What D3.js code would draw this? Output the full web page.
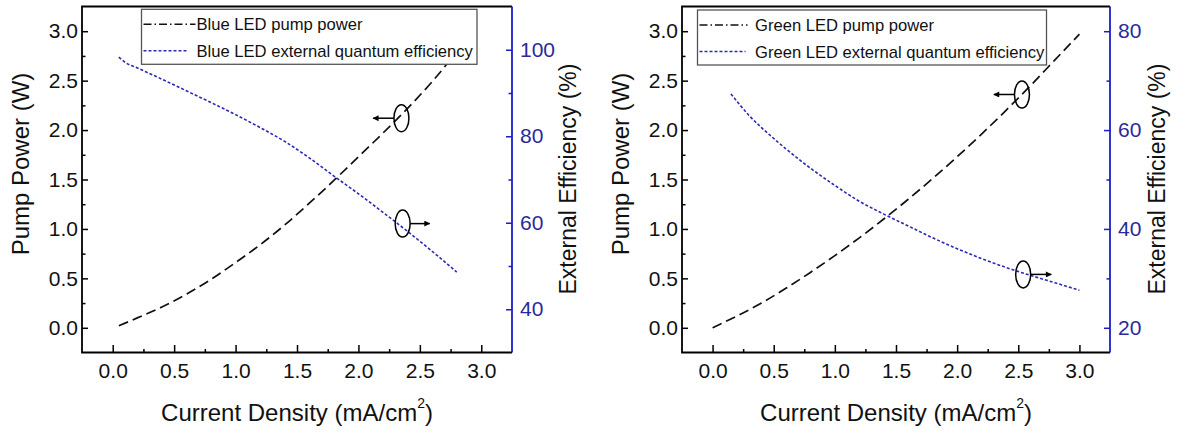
<!DOCTYPE html>
<html><head><meta charset="utf-8">
<script src="https://cdn.jsdelivr.net/npm/d3@7"></script>
<style>
body{margin:0;background:#fff}
svg{display:block}
text{font-family:"Liberation Sans",Arial,sans-serif}
</style>
</head><body>
<svg id="c" width="1181" height="437"></svg>
<script>
// ---- tick labels ----
const xTicks = [0, 0.5, 1, 1.5, 2, 2.5, 3];
const xMinor = [0.25, 0.75, 1.25, 1.75, 2.25, 2.75];
const pumpTicks = [0, 0.5, 1, 1.5, 2, 2.5, 3];
const pumpMinor = [0.25, 0.75, 1.25, 1.75, 2.25, 2.75];
const blueEffTicks = [40, 60, 80, 100];
const blueEffMinor = [50, 70, 90];
const greenEffTicks = [20, 40, 60, 80];
const greenEffMinor = [30, 50, 70];

// ---- Blue LED series ----
const blueCurrent = [0.05, 0.2, 0.4, 0.6, 0.8, 1.0, 1.2, 1.4, 1.6, 1.8, 2.0, 2.2, 2.4, 2.6, 2.8];
const bluePump    = [0.02, 0.10, 0.21, 0.34, 0.49, 0.66, 0.84, 1.04, 1.26, 1.49, 1.73, 1.97, 2.22, 2.49, 2.79];
const blueEffCurrent = [0.05, 0.1, 0.2, 0.4, 0.6, 0.8, 1.0, 1.2, 1.4, 1.6, 1.8, 2.0, 2.2, 2.4, 2.6, 2.8];
const blueEff        = [98.3, 97.1, 95.8, 93.2, 90.5, 87.8, 85.0, 82.0, 78.8, 75.0, 70.8, 66.7, 62.4, 58.0, 53.4, 48.6];

// ---- Green LED series ----
const greenCurrent = [0, 0.2, 0.4, 0.6, 0.8, 1.0, 1.2, 1.4, 1.6, 1.8, 2.0, 2.2, 2.4, 2.6, 2.8, 3.0];
const greenPump    = [0.00, 0.12, 0.25, 0.40, 0.56, 0.73, 0.91, 1.10, 1.30, 1.51, 1.73, 1.96, 2.20, 2.45, 2.71, 2.97];
const greenEffCurrent = [0.15, 0.2, 0.3, 0.4, 0.5, 0.6, 0.8, 1.0, 1.2, 1.4, 1.6, 1.8, 2.0, 2.2, 2.4, 2.6, 2.8, 3.0];
const greenEff        = [67.3, 65.8, 62.9, 60.5, 58.3, 56.2, 52.3, 48.8, 45.6, 43.0, 40.6, 38.2, 36.0, 34.0, 32.2, 30.6, 29.1, 27.6];

// ---- legend labels ----
const blueLegend = ["Blue LED pump power", "Blue LED external quantum efficiency"];
const greenLegend = ["Green LED pump power", "Green LED external quantum efficiency"];

// ---- annotation marks (current, value, which axis, arrow tip current) ----
const blueNotes = [[2.35, 2.12, "L", 2.12], [2.36, 59.8, "R", 2.58]];
const greenNotes = [[2.53, 2.36, "L", 2.30], [2.54, 30.8, "R", 2.77]];

const svg = d3.select("#c");
const AX = "#1c1cc8", LBL = "#2a2a9c", EFF = "#2b2bb5";
const yTop = 6.5, yBot = 352.5;

svg.append("defs").append("marker")
  .attr("id", "ah").attr("viewBox", "0 0 10 10").attr("refX", 9).attr("refY", 5)
  .attr("markerWidth", 7).attr("markerHeight", 6).attr("markerUnits", "userSpaceOnUse")
  .attr("orient", "auto")
  .append("path").attr("d", "M0,0L10,5L0,10z").attr("fill", "#000");

function panel(o) {
  const g = svg.append("g");
  const x = d3.scaleLinear().domain([-0.25, 3.25]).range([o.x0, o.x1]);
  const yL = d3.scaleLinear().domain([-0.25, 3.25]).range([yBot, yTop]);
  const yR = d3.scaleLinear().domain(o.rDomain).range([yBot, yTop]);

  const cid = "clip" + o.id;
  svg.select("defs").append("clipPath").attr("id", cid)
    .append("rect").attr("x", o.x0).attr("y", yTop).attr("width", o.x1 - o.x0).attr("height", yBot - yTop);

  // data lines
  const lineL = d3.line().x(d => x(d[0])).y(d => yL(d[1])).curve(d3.curveMonotoneX);
  const lineR = d3.line().x(d => x(d[0])).y(d => yR(d[1])).curve(d3.curveMonotoneX);
  const lines = g.append("g").attr("clip-path", `url(#${cid})`);
  lines.append("path").attr("d", lineR(d3.zip(o.effX, o.eff)))
    .attr("fill", "none").attr("stroke", EFF).attr("stroke-width", 1.6).attr("stroke-dasharray", "3,2");
  lines.append("path").attr("d", lineL(d3.zip(o.pumpX, o.pump)))
    .attr("fill", "none").attr("stroke", "#111").attr("stroke-width", 1.7).attr("stroke-dasharray", "10,5");

  // axes
  const styleAxis = (sel, color, labelColor) => {
    sel.selectAll(".domain").remove();
    sel.selectAll("line").attr("stroke", color).attr("stroke-width", 1.5);
    sel.selectAll("text").attr("fill", labelColor).attr("font-size", 21);
  };
  const fmt = d3.format(".1f");
  g.append("g").attr("transform", `translate(0,${yBot})`)
    .call(d3.axisBottom(x).tickValues(xTicks).tickFormat(fmt).tickSizeInner(-7.5).tickSizeOuter(0).tickPadding(11))
    .call(s => styleAxis(s, "#000", "#111"));
  g.append("g").attr("transform", `translate(0,${yBot})`)
    .call(d3.axisBottom(x).tickValues(xMinor).tickFormat("").tickSizeInner(-3.5).tickSizeOuter(0))
    .call(s => styleAxis(s, "#000", "#111"));
  g.append("g").attr("transform", `translate(${o.x0},0)`)
    .call(d3.axisLeft(yL).tickValues(pumpTicks).tickFormat(fmt).tickSizeInner(-6).tickSizeOuter(0).tickPadding(4))
    .call(s => styleAxis(s, "#000", "#111"));
  g.append("g").attr("transform", `translate(${o.x0},0)`)
    .call(d3.axisLeft(yL).tickValues(pumpMinor).tickFormat("").tickSizeInner(-3.5).tickSizeOuter(0))
    .call(s => styleAxis(s, "#000", "#111"));
  g.append("g").attr("transform", `translate(${o.x1},0)`)
    .call(d3.axisRight(yR).tickValues(o.rTicks).tickFormat(d3.format("d")).tickSizeInner(-6).tickSizeOuter(0).tickPadding(8))
    .call(s => styleAxis(s, AX, LBL));
  g.append("g").attr("transform", `translate(${o.x1},0)`)
    .call(d3.axisRight(yR).tickValues(o.rMinor).tickFormat("").tickSizeInner(-3.5).tickSizeOuter(0))
    .call(s => styleAxis(s, AX, LBL));

  // frame
  g.append("path").attr("d", `M${o.x1},${yTop}H${o.x0}V${yBot}H${o.x1}`)
    .attr("fill", "none").attr("stroke", "#000").attr("stroke-width", 1.8);
  g.append("line").attr("x1", o.x1).attr("x2", o.x1).attr("y1", yTop).attr("y2", yBot)
    .attr("stroke", AX).attr("stroke-width", 1.8);

  // annotations
  o.notes.forEach(n => {
    const cx = x(n[0]), cy = n[2] === "L" ? yL(n[1]) : yR(n[1]);
    g.append("ellipse").attr("cx", cx).attr("cy", cy).attr("rx", 7.5).attr("ry", 13.5)
      .attr("fill", "none").attr("stroke", "#000").attr("stroke-width", 1.5);
    const tip = x(n[3]);
    const start = tip < cx ? cx - 7.5 : cx + 7.5;
    g.append("line").attr("x1", start).attr("y1", cy).attr("x2", tip).attr("y2", cy)
      .attr("stroke", "#000").attr("stroke-width", 1.5).attr("marker-end", "url(#ah)");
  });

  // legend
  const lg = g.append("g");
  lg.append("rect").attr("x", o.lx).attr("y", o.ly).attr("width", o.lw).attr("height", 55)
    .attr("fill", "#fff").attr("stroke", "#555").attr("stroke-width", 1.3);
  const rows = [{y: o.ly + 15, dash: "8,3,1.5,3", col: "#111", len: o.s1},
                {y: o.ly + 41.5, dash: "3,2", col: EFF, len: o.s2}];
  rows.forEach((r, i) => {
    lg.append("line").attr("x1", o.lx + 2).attr("x2", o.lx + 2 + r.len).attr("y1", r.y).attr("y2", r.y)
      .attr("stroke", r.col).attr("stroke-width", 1.6).attr("stroke-dasharray", r.dash);
    lg.append("text").attr("x", o.tx).attr("y", r.y + 6).attr("font-size", 16.6).attr("fill", "#111")
      .text(o.legend[i]);
  });

  // axis titles
  const cxm = (o.x0 + o.x1) / 2;
  const xt = g.append("text").attr("x", cxm).attr("y", 421).attr("text-anchor", "middle")
    .attr("font-size", 24).attr("fill", "#111");
  xt.append("tspan").text("Current Density (mA/cm");
  xt.append("tspan").attr("dy", -13).attr("font-size", 14).text("2");
  xt.append("tspan").attr("dy", 13).text(")");
  g.append("text").attr("transform", `translate(${o.ltx},164) rotate(-90)`).attr("text-anchor", "middle")
    .attr("font-size", 24).attr("fill", "#111").text("Pump Power (W)");
  g.append("text").attr("transform", `translate(${o.rtx},179) rotate(-90)`).attr("text-anchor", "middle")
    .attr("font-size", 23).attr("fill", "#111").text("External Efficiency (%)");
}

panel({id: 1, x0: 82, x1: 512, rDomain: [30, 110], rTicks: blueEffTicks, rMinor: blueEffMinor,
  pumpX: blueCurrent, pump: bluePump, effX: blueEffCurrent, eff: blueEff, notes: blueNotes,
  lx: 141.5, ly: 9.3, lw: 335.5, s1: 52, s2: 45, tx: 196.5, legend: blueLegend, ltx: 29, rtx: 575.5});
panel({id: 2, x0: 682, x1: 1110, rDomain: [15, 85], rTicks: greenEffTicks, rMinor: greenEffMinor,
  pumpX: greenCurrent, pump: greenPump, effX: greenEffCurrent, eff: greenEff, notes: greenNotes,
  lx: 697.5, ly: 10, lw: 349, s1: 48, s2: 46, tx: 755, legend: greenLegend, ltx: 629, rtx: 1165});
</script>
</body></html>
